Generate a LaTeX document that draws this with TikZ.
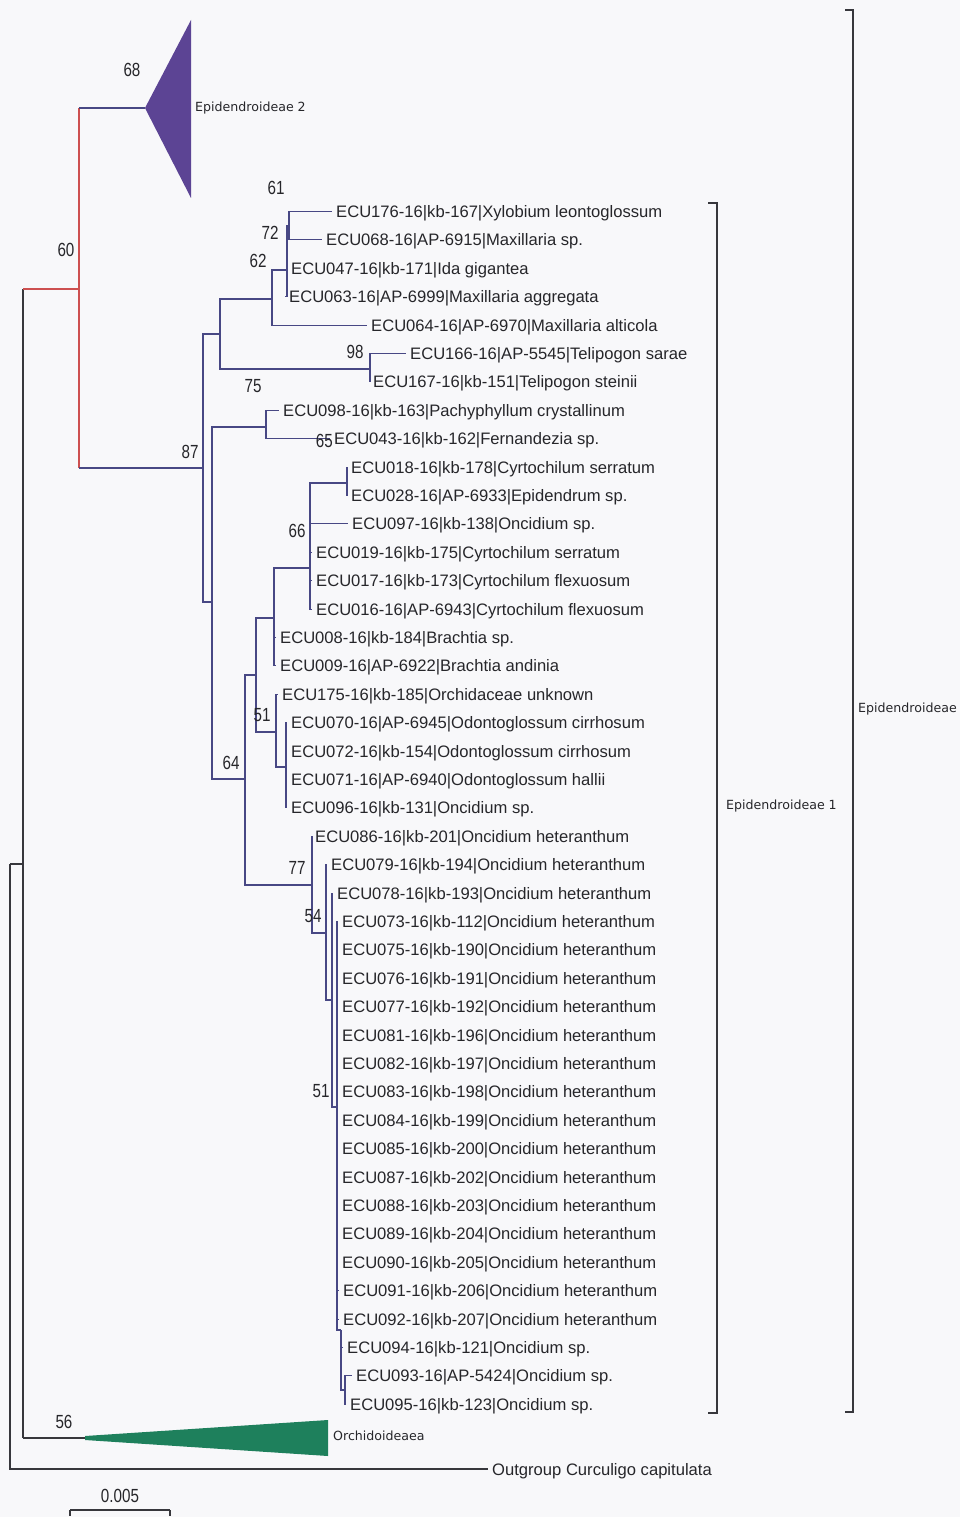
\documentclass[tikz,border=0pt]{standalone}
\usepackage{fontspec}
\setmainfont{Liberation Sans}
\newfontfamily\numfont[FakeStretch=0.8]{Liberation Sans}
\newfontfamily\cladefont{DejaVu Sans}
\definecolor{treeblue}{RGB}{72,72,132}
\definecolor{treered}{RGB}{205,80,80}
\definecolor{treedark}{RGB}{55,55,60}
\definecolor{txt}{RGB}{38,38,42}
\definecolor{epipurple}{RGB}{92,68,148}
\definecolor{orchgreen}{RGB}{30,128,92}
\definecolor{paper}{RGB}{248,248,250}
\tikzset{
  leaf/.style={anchor=west, inner xsep=4pt, inner ysep=0pt, text height=12pt, text depth=0pt,
     font=\fontsize{16.6}{18}\selectfont, text=txt},
  boot/.style={inner sep=0pt, text height=13.6pt, text depth=0pt,
     font=\numfont\fontsize{19}{20}\selectfont, text=txt},
  clade/.style={anchor=west, inner sep=0pt, text height=9pt, text depth=0pt,
     font=\cladefont\fontsize{12.6}{14}\selectfont, text=txt},
  br/.style={draw=treeblue, line width=1.1pt},
  rootline/.style={draw=treedark, line width=1.1pt},
  redline/.style={draw=treered, line width=1.1pt},
  bracket/.style={draw=treedark, line width=1.8pt},
}
\begin{document}
\begin{tikzpicture}[x=1pt,y=-1pt]
\fill[paper] (0,0) rectangle (960,1517);
\useasboundingbox (0,0) rectangle (960,1517);

% ---- leaves ----
\foreach \n/\x/\y/\t in {
 e176/336/211.5/{ECU176-16|kb-167|Xylobium leontoglossum},
 e068/326/239.9/{ECU068-16|AP-6915|Maxillaria sp.},
 e047/291/268.3/{ECU047-16|kb-171|Ida gigantea},
 e063/289/296.7/{ECU063-16|AP-6999|Maxillaria aggregata},
 e064/371/325.1/{ECU064-16|AP-6970|Maxillaria alticola},
 e166/410/353.5/{ECU166-16|AP-5545|Telipogon sarae},
 e167/373/381.9/{ECU167-16|kb-151|Telipogon steinii},
 e098/283/410.3/{ECU098-16|kb-163|Pachyphyllum crystallinum},
 e043/334/438.7/{ECU043-16|kb-162|Fernandezia sp.},
 e018/351/467.1/{ECU018-16|kb-178|Cyrtochilum serratum},
 e028/351/495.5/{ECU028-16|AP-6933|Epidendrum sp.},
 e097/352/523.9/{ECU097-16|kb-138|Oncidium sp.},
 e019/316/552.3/{ECU019-16|kb-175|Cyrtochilum serratum},
 e017/316/580.7/{ECU017-16|kb-173|Cyrtochilum flexuosum},
 e016/316/609.1/{ECU016-16|AP-6943|Cyrtochilum flexuosum},
 e008/280/637.5/{ECU008-16|kb-184|Brachtia sp.},
 e009/280/665.9/{ECU009-16|AP-6922|Brachtia andinia},
 e175/282/694.3/{ECU175-16|kb-185|Orchidaceae unknown},
 e070/291/722.7/{ECU070-16|AP-6945|Odontoglossum cirrhosum},
 e072/291/751.1/{ECU072-16|kb-154|Odontoglossum cirrhosum},
 e071/291/779.5/{ECU071-16|AP-6940|Odontoglossum hallii},
 e096/291/807.9/{ECU096-16|kb-131|Oncidium sp.},
 e086/315/836.3/{ECU086-16|kb-201|Oncidium heteranthum},
 e079/331/864.7/{ECU079-16|kb-194|Oncidium heteranthum},
 e078/337/893.1/{ECU078-16|kb-193|Oncidium heteranthum},
 e073/342/921.5/{ECU073-16|kb-112|Oncidium heteranthum},
 e075/342/949.9/{ECU075-16|kb-190|Oncidium heteranthum},
 e076/342/978.3/{ECU076-16|kb-191|Oncidium heteranthum},
 e077/342/1006.7/{ECU077-16|kb-192|Oncidium heteranthum},
 e081/342/1035.1/{ECU081-16|kb-196|Oncidium heteranthum},
 e082/342/1063.5/{ECU082-16|kb-197|Oncidium heteranthum},
 e083/342/1091.9/{ECU083-16|kb-198|Oncidium heteranthum},
 e084/342/1120.3/{ECU084-16|kb-199|Oncidium heteranthum},
 e085/342/1148.7/{ECU085-16|kb-200|Oncidium heteranthum},
 e087/342/1177.1/{ECU087-16|kb-202|Oncidium heteranthum},
 e088/342/1205.5/{ECU088-16|kb-203|Oncidium heteranthum},
 e089/342/1233.9/{ECU089-16|kb-204|Oncidium heteranthum},
 e090/342/1262.3/{ECU090-16|kb-205|Oncidium heteranthum},
 e091/343/1290.7/{ECU091-16|kb-206|Oncidium heteranthum},
 e092/343/1319.1/{ECU092-16|kb-207|Oncidium heteranthum},
 e094/347/1347.5/{ECU094-16|kb-121|Oncidium sp.},
 e093/356/1375.9/{ECU093-16|AP-5424|Oncidium sp.},
 e095/350/1404.3/{ECU095-16|kb-123|Oncidium sp.},
 og/492/1469/{Outgroup Curculigo capitulata}}
 \node[leaf] (\n) at (\x-4,\y) {\t};

% ---- internal nodes ----
\coordinate (R) at (10,864);
\coordinate (I) at (23,864);
\coordinate (Epi) at (79,289);
\coordinate (E2) at (145,108);
\coordinate (OA) at (85,1438);
\coordinate (A) at (203,468);
\coordinate (B) at (220,334);
\coordinate (N62) at (272,299);
\coordinate (N72) at (287,270);
\coordinate (N61) at (289,226);
\coordinate (Tel) at (370,369);
\coordinate (D) at (212,602);
\coordinate (N65) at (266,427);
\coordinate (E) at (245,779);
\coordinate (N256) at (256,675);
\coordinate (F) at (274,618);
\coordinate (N66) at (310,568);
\coordinate (N347) at (347,483);
\coordinate (N51) at (276,732);
\coordinate (N286) at (286,767);
\coordinate (N77) at (312,885);
\coordinate (N54) at (326,933);
\coordinate (N332) at (332,1000);
\coordinate (N337) at (337,1107);
\coordinate (Nb) at (341,1330);
\coordinate (Nc) at (345,1390);

% ---- root and backbone ----
\draw[rootline] (R) |- (og);
\draw[rootline] (R) -- (I);
\draw[rootline] (I |- Epi) -- (I |- OA);
\draw[redline] (I |- Epi) -- (Epi);
\draw[rootline] (I |- OA) -- (OA);
\draw[redline] (Epi |- E2) -- (Epi |- A);
\draw[br] (Epi |- E2) -- (E2);
\draw[br] (Epi |- A) -- (A);

% ---- collapsed clades ----
\fill[epipurple] (E2) -- (191,20) -- (191,198) -- cycle;
\node[clade] (lE2) at (195,107) {Epidendroideae 2};
\fill[orchgreen] (OA) ++(0,-2) -- (328,1420) -- (328,1456) -- (85,1440) -- cycle;
\node[clade] (lOr) at (333,1436) {Orchidoideaea};

% ---- tree branches ----
\draw[br] (A) |- (B);  \draw[br] (A) |- (D);
\draw[br] (B) |- (N62); \draw[br] (B) |- (Tel);
\draw[br] (N62) |- (N72); \draw[br] (N62) |- (e064);
\draw[br] (N72) |- (N61); \draw[br] (N72) |- (e047); \draw[br] (N72) |- (e063);
\draw[br] (N61) |- (e176); \draw[br] (N61) |- (e068);
\draw[br] (Tel) |- (e166); \draw[br] (Tel) |- (e167);
\draw[br] (D) |- (N65); \draw[br] (D) |- (E);
\draw[br] (N65) |- (e098); \draw[br] (N65) |- (e043);
\draw[br] (E) |- (N256); \draw[br] (E) |- (N77);
\draw[br] (N256) |- (F); \draw[br] (N256) |- (N51);
\draw[br] (F) |- (N66); \draw[br] (F) |- (e008); \draw[br] (F) |- (e009);
\draw[br] (N66) |- (N347);
\foreach \c in {e097,e019,e017,e016} \draw[br] (N66) |- (\c);
\draw[br] (N347) |- (e018); \draw[br] (N347) |- (e028);
\draw[br] (N51) |- (e175); \draw[br] (N51) |- (N286);
\foreach \c in {e070,e072,e071,e096} \draw[br] (N286) |- (\c);
\draw[br] (N77) |- (e086); \draw[br] (N77) |- (N54);
\draw[br] (N54) |- (e079); \draw[br] (N54) |- (N332);
\draw[br] (N332) |- (e078); \draw[br] (N332) |- (N337);
\foreach \c in {e073,e075,e076,e077,e081,e082,e083,e084,e085,e087,e088,e089,e090,e091,e092}
  \draw[br] (N337) |- (\c);
\draw[br] (N337) |- (Nb);
\draw[br] (Nb) |- (e094); \draw[br] (Nb) |- (Nc);
\draw[br] (Nc) |- (e093); \draw[br] (Nc) |- (e095);

% ---- bootstrap values ----
\node[boot] (b68) at (132,70) {68};
\node[boot] (b60) at (66,250) {60};
\node[boot] (b61) at (276,188) {61};
\node[boot] (b72) at (270,233) {72};
\node[boot] (b62) at (258,261) {62};
\node[boot] (b98) at (355,352) {98};
\node[boot] (b75) at (253,386) {75};
\node[boot] (b87) at (190,452) {87};
\node[boot, anchor=east] (b65) at (333,441) {65};
\node[boot] (b66) at (297,531) {66};
\node[boot] (b51a) at (262,715) {51};
\node[boot] (b64) at (231,763) {64};
\node[boot] (b77) at (297,868) {77};
\node[boot] (b54) at (313,916) {54};
\node[boot] (b51b) at (321,1091) {51};
\node[boot] (b56) at (64,1422) {56};

% ---- brackets ----
\draw[bracket] (708,203) -- (717,203) -- (717,1413) -- (708,1413);
\node[clade] (lE1) at (726,805) {Epidendroideae 1};
\draw[bracket] (845,10) -- (853,10) -- (853,1412) -- (845,1412);
\node[clade] (lEp) at (858,708) {Epidendroideae};

% ---- scale bar ----
\node[boot] (sc) at (120,1496) {0.005};
\coordinate (s1) at (70,1510);
\coordinate (s2) at (170,1510);
\draw[rootline] (s1) -- (s2);
\draw[rootline] (s1) -- ++(0,6);
\draw[rootline] (s2) -- ++(0,6);
\end{tikzpicture}
\end{document}
